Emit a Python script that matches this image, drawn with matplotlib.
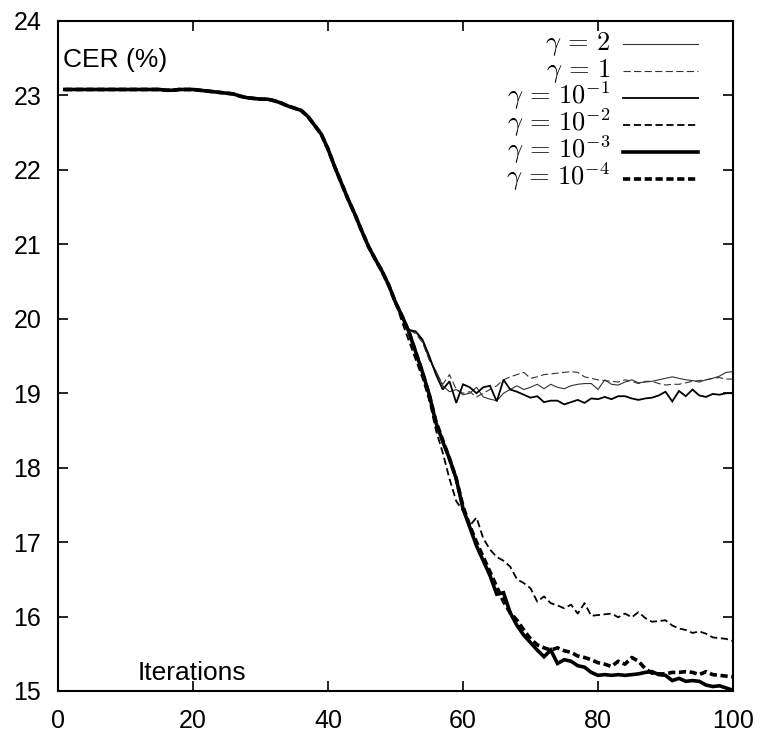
import matplotlib
matplotlib.use("Agg")
import matplotlib.pyplot as plt

iterations = list(range(1, 101))

# shared part of all curves, iterations 1..50
common_head = [23.08, 23.08, 23.08, 23.08, 23.08, 23.08, 23.08, 23.08, 23.08, 23.08,
               23.08, 23.08, 23.08, 23.08, 23.08, 23.07, 23.07, 23.08, 23.08, 23.08,
               23.07, 23.06, 23.05, 23.04, 23.03, 23.02, 22.99, 22.97, 22.96, 22.95,
               22.95, 22.93, 22.90, 22.86, 22.83, 22.80, 22.72, 22.60, 22.48, 22.28,
               22.04, 21.82, 21.60, 21.40, 21.18, 20.97, 20.80, 20.64, 20.45, 20.22]

# iterations 51..100
tail_g2 = [20.03, 19.85, 19.82, 19.70, 19.45, 19.30, 19.10, 19.02, 19.05, 18.98,
           19.00, 19.08, 18.95, 18.92, 18.90, 19.00, 19.05, 19.10, 19.05, 19.08,
           19.12, 19.06, 19.12, 19.08, 19.06, 19.10, 19.12, 19.13, 19.13, 19.05,
           19.18, 19.12, 19.11, 19.15, 19.18, 19.14, 19.15, 19.16, 19.18, 19.20,
           19.22, 19.20, 19.18, 19.17, 19.15, 19.18, 19.20, 19.23, 19.28, 19.29]
tail_g1 = [20.03, 19.85, 19.80, 19.68, 19.45, 19.28, 19.12, 19.25, 19.05, 19.00,
           19.02, 18.95, 19.00, 19.05, 19.10, 19.18, 19.22, 19.25, 19.28, 19.20,
           19.22, 19.25, 19.26, 19.27, 19.28, 19.29, 19.28, 19.22, 19.20, 19.18,
           19.17, 19.16, 19.15, 19.18, 19.16, 19.13, 19.16, 19.16, 19.13, 19.11,
           19.12, 19.12, 19.14, 19.16, 19.17, 19.18, 19.20, 19.21, 19.19, 19.19]
tail_g1e1 = [20.02, 19.85, 19.83, 19.72, 19.50, 19.25, 19.05, 19.16, 18.87, 19.12,
             19.08, 19.00, 19.08, 19.10, 18.89, 19.18, 19.05, 19.02, 18.98, 18.94,
             18.96, 18.88, 18.90, 18.90, 18.85, 18.88, 18.91, 18.87, 18.93, 18.92,
             18.95, 18.92, 18.96, 18.96, 18.93, 18.91, 18.93, 18.94, 18.97, 19.02,
             18.89, 19.03, 18.96, 19.05, 18.97, 18.95, 18.99, 18.98, 19.00, 19.00]
tail_g1e2 = [19.95, 19.70, 19.45, 19.20, 18.90, 18.50, 18.20, 17.85, 17.55, 17.42,
             17.22, 17.33, 17.05, 16.90, 16.80, 16.75, 16.67, 16.50, 16.45, 16.38,
             16.20, 16.27, 16.18, 16.15, 16.11, 16.16, 16.04, 16.18, 16.01, 16.02,
             16.03, 16.04, 15.99, 16.04, 15.99, 16.06, 15.98, 15.93, 15.94, 15.95,
             15.88, 15.84, 15.82, 15.78, 15.80, 15.77, 15.72, 15.71, 15.70, 15.67]
tail_g1e3 = [20.03, 19.82, 19.55, 19.28, 18.98, 18.60, 18.35, 18.12, 17.85, 17.45,
             17.20, 16.95, 16.75, 16.55, 16.30, 16.32, 16.05, 15.88, 15.75, 15.65,
             15.55, 15.46, 15.55, 15.37, 15.42, 15.40, 15.34, 15.32, 15.25, 15.21,
             15.22, 15.21, 15.22, 15.21, 15.22, 15.23, 15.25, 15.26, 15.22, 15.21,
             15.14, 15.17, 15.13, 15.14, 15.13, 15.08, 15.06, 15.07, 15.04, 15.01]
tail_g1e4 = [20.03, 19.82, 19.55, 19.28, 18.98, 18.62, 18.37, 18.12, 17.85, 17.48,
             17.22, 17.00, 16.80, 16.60, 16.40, 16.20, 16.05, 15.95, 15.82, 15.70,
             15.62, 15.58, 15.55, 15.58, 15.54, 15.52, 15.47, 15.45, 15.42, 15.38,
             15.36, 15.33, 15.40, 15.36, 15.45, 15.40, 15.30, 15.24, 15.23, 15.23,
             15.25, 15.25, 15.26, 15.25, 15.22, 15.26, 15.22, 15.21, 15.20, 15.19]

labels = [r'$\gamma\,=\,2$', r'$\gamma\,=\,1$', r'$\gamma\,=\,10^{-1}$',
          r'$\gamma\,=\,10^{-2}$', r'$\gamma\,=\,10^{-3}$', r'$\gamma\,=\,10^{-4}$']
tails = [tail_g2, tail_g1, tail_g1e1, tail_g1e2, tail_g1e3, tail_g1e4]

x_ticks = [0, 20, 40, 60, 80, 100]
y_ticks = [15, 16, 17, 18, 19, 20, 21, 22, 23, 24]

styles = [
    dict(color='#333333', lw=0.8, ls='-'),
    dict(color='#333333', lw=0.8, ls=(0, (6.5, 3.0))),
    dict(color='black', lw=1.3, ls='-'),
    dict(color='black', lw=1.3, ls=(0, (4.0, 2.0))),
    dict(color='black', lw=2.6, ls='-'),
    dict(color='black', lw=2.6, ls=(0, (2.0, 1.0))),
]

plt.rcParams['font.family'] = ['Liberation Sans', 'DejaVu Sans']
plt.rcParams['mathtext.fontset'] = 'cm'

fig = plt.figure(figsize=(7.63, 7.38), dpi=100)
ax = fig.add_axes([58 / 763, 1 - 691 / 738, 675 / 763, 670 / 738])

for lab, tail, st in zip(labels, tails, styles):
    ax.plot(iterations, common_head + tail, label=lab, solid_joinstyle='miter', **st)

ax.set_xlim(0, 100)
ax.set_ylim(15, 24)
ax.set_xticks(x_ticks)
ax.set_yticks(y_ticks)
ax.tick_params(direction='in', top=True, right=True, length=7, width=1.2,
               labelsize=18)
ax.tick_params(axis='y', pad=12)
ax.tick_params(axis='x', pad=13)
for s in ax.spines.values():
    s.set_linewidth(1.5)

ax.text(0.007, 0.931, 'CER (%)', transform=ax.transAxes, fontsize=19,
        ha='left', va='baseline')
ax.text(0.1185, 0.016, 'Iterations', transform=ax.transAxes, fontsize=19,
        ha='left', va='baseline')

# key (gnuplot style: label right-aligned, sample line to its right)
key_top = 0.9657
key_step = 0.0403
for i, (lab, st) in enumerate(zip(labels, styles)):
    yk = key_top - i * key_step
    ax.text(0.818, yk - 0.009, lab, transform=ax.transAxes, fontsize=19,
            ha='right', va='baseline')
    ax.plot([0.837, 0.948], [yk, yk], transform=ax.transAxes, clip_on=False, **st)

fig.savefig('out.png', dpi=100)
